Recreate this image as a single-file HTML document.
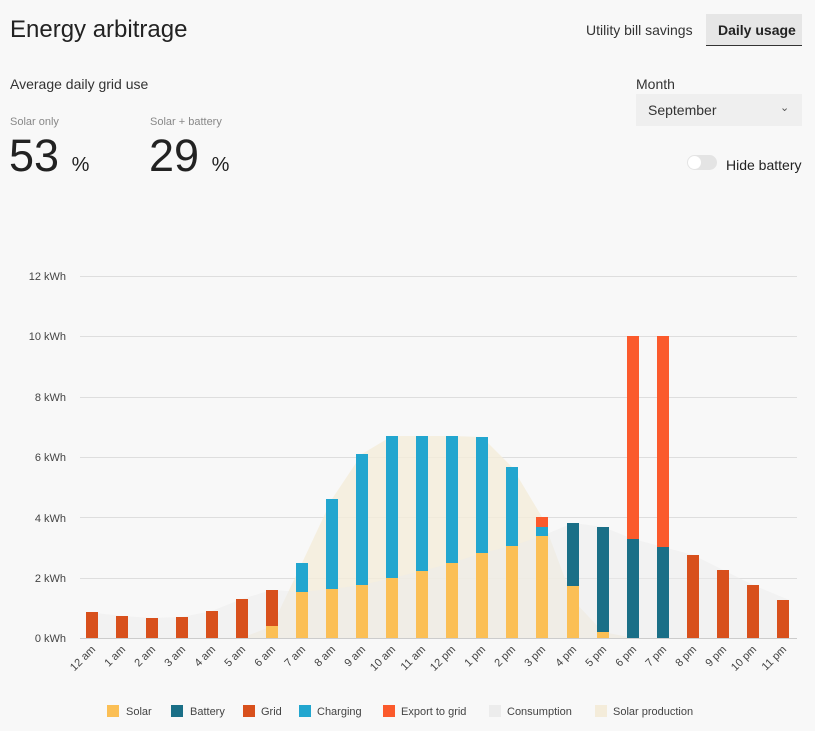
<!DOCTYPE html>
<html><head><meta charset="utf-8"><style>
body{margin:0;width:815px;height:731px;background:#f8f8f8;font-family:"Liberation Sans",sans-serif;color:#222;position:relative;overflow:hidden}
.a{position:absolute;white-space:nowrap}
</style></head><body>
<div class="a" style="left:10px;top:16px;font-size:24px;color:#222">Energy arbitrage</div>
<div class="a" style="left:586px;top:22px;font-size:14px;color:#333">Utility bill savings</div>
<div class="a" style="left:706px;top:14px;width:96px;height:31px;background:#e6e6e6;border-bottom:1px solid #333"></div>
<div class="a" style="left:718px;top:22px;font-size:14px;font-weight:bold;color:#222">Daily usage</div>
<div class="a" style="left:10px;top:76px;font-size:14px;color:#333">Average daily grid use</div>
<div class="a" style="left:10px;top:116px;font-size:11px;color:#888">Solar only</div>
<div class="a" style="left:150px;top:116px;font-size:11px;color:#888">Solar + battery</div>
<div class="a" style="left:9px;top:130px;font-size:45px;color:#222">53 <span style="font-size:20px">%</span></div>
<div class="a" style="left:149px;top:130px;font-size:45px;color:#222">29 <span style="font-size:20px">%</span></div>
<div class="a" style="left:636px;top:76px;font-size:14px;color:#333">Month</div>
<div class="a" style="left:636px;top:94px;width:166px;height:32px;background:#efefef"></div>
<div class="a" style="left:648px;top:102px;font-size:14px;color:#333">September</div>
<div class="a" style="left:780px;top:101px;font-size:11px;color:#555">&#8964;</div>
<div class="a" style="left:687px;top:155px;width:30px;height:15px;border-radius:8px;background:#e4e4e4"></div>
<div class="a" style="left:688px;top:156px;width:13px;height:13px;border-radius:7px;background:#fff"></div>
<div class="a" style="left:726px;top:157px;font-size:14px;color:#222">Hide battery</div>
<svg class="a" style="left:0;top:0" width="815" height="731">
<g font-size="11" fill="#444" text-anchor="end">
<text x="66" y="280">12 kWh</text><text x="66" y="340">10 kWh</text><text x="66" y="401">8 kWh</text><text x="66" y="461">6 kWh</text><text x="66" y="522">4 kWh</text><text x="66" y="582">2 kWh</text><text x="66" y="642">0 kWh</text>
</g>
<g stroke="#dedede" stroke-width="1">
<line x1="80" x2="797" y1="276.5" y2="276.5"/><line x1="80" x2="797" y1="336.5" y2="336.5"/><line x1="80" x2="797" y1="397.5" y2="397.5"/><line x1="80" x2="797" y1="457.5" y2="457.5"/><line x1="80" x2="797" y1="517.5" y2="517.5"/><line x1="80" x2="797" y1="578.5" y2="578.5"/>
</g>
<polygon fill="#f4ecda" opacity="0.8" points="242,638 272,626 302,563 332,499 362,454 392,436 422,436 452,436 482,437 512,467 542,517 573,600 603,632 633,638"/>
<polygon fill="#ebebeb" opacity="0.5" points="86,638 86,612 122,616 152,618 182,617 212,611 242,599 272,590 302,592 332,589 362,585 392,578 422,571 452,563 482,553 512,546 542,536 573,523 603,527 633,539 663,547 693,555 723,570 753,585 789,600 789,638"/>
<line x1="80" x2="797" y1="638.5" y2="638.5" stroke="#ccc"/>
<g>
<rect x="86" y="612" width="12" height="26" fill="#d8501c"/>
<rect x="116" y="616" width="12" height="22" fill="#d8501c"/>
<rect x="146" y="618" width="12" height="20" fill="#d8501c"/>
<rect x="176" y="617" width="12" height="21" fill="#d8501c"/>
<rect x="206" y="611" width="12" height="27" fill="#d8501c"/>
<rect x="236" y="599" width="12" height="39" fill="#d8501c"/>
<rect x="266" y="590" width="12" height="36" fill="#d8501c"/><rect x="266" y="626" width="12" height="12" fill="#fbbf55"/>
<rect x="296" y="563" width="12" height="29" fill="#22a6cf"/><rect x="296" y="592" width="12" height="46" fill="#fbbf55"/>
<rect x="326" y="499" width="12" height="90" fill="#22a6cf"/><rect x="326" y="589" width="12" height="49" fill="#fbbf55"/>
<rect x="356" y="454" width="12" height="131" fill="#22a6cf"/><rect x="356" y="585" width="12" height="53" fill="#fbbf55"/>
<rect x="386" y="436" width="12" height="142" fill="#22a6cf"/><rect x="386" y="578" width="12" height="60" fill="#fbbf55"/>
<rect x="416" y="436" width="12" height="135" fill="#22a6cf"/><rect x="416" y="571" width="12" height="67" fill="#fbbf55"/>
<rect x="446" y="436" width="12" height="127" fill="#22a6cf"/><rect x="446" y="563" width="12" height="75" fill="#fbbf55"/>
<rect x="476" y="437" width="12" height="116" fill="#22a6cf"/><rect x="476" y="553" width="12" height="85" fill="#fbbf55"/>
<rect x="506" y="467" width="12" height="79" fill="#22a6cf"/><rect x="506" y="546" width="12" height="92" fill="#fbbf55"/>
<rect x="536" y="517" width="12" height="10" fill="#fb5a2c"/><rect x="536" y="527" width="12" height="9" fill="#22a6cf"/><rect x="536" y="536" width="12" height="102" fill="#fbbf55"/>
<rect x="567" y="523" width="12" height="63" fill="#1a6f87"/><rect x="567" y="586" width="12" height="52" fill="#fbbf55"/>
<rect x="597" y="527" width="12" height="105" fill="#1a6f87"/><rect x="597" y="632" width="12" height="6" fill="#fbbf55"/>
<rect x="627" y="336" width="12" height="203" fill="#fb5a2c"/><rect x="627" y="539" width="12" height="99" fill="#1a6f87"/>
<rect x="657" y="336" width="12" height="211" fill="#fb5a2c"/><rect x="657" y="547" width="12" height="91" fill="#1a6f87"/>
<rect x="687" y="555" width="12" height="83" fill="#d8501c"/>
<rect x="717" y="570" width="12" height="68" fill="#d8501c"/>
<rect x="747" y="585" width="12" height="53" fill="#d8501c"/>
<rect x="777" y="600" width="12" height="38" fill="#d8501c"/>
</g>
<g font-size="11" fill="#444" text-anchor="end">
<text transform="translate(96,650) rotate(-45)">12 am</text>
<text transform="translate(126,650) rotate(-45)">1 am</text>
<text transform="translate(156,650) rotate(-45)">2 am</text>
<text transform="translate(186,650) rotate(-45)">3 am</text>
<text transform="translate(216,650) rotate(-45)">4 am</text>
<text transform="translate(246,650) rotate(-45)">5 am</text>
<text transform="translate(276,650) rotate(-45)">6 am</text>
<text transform="translate(306,650) rotate(-45)">7 am</text>
<text transform="translate(336,650) rotate(-45)">8 am</text>
<text transform="translate(366,650) rotate(-45)">9 am</text>
<text transform="translate(396,650) rotate(-45)">10 am</text>
<text transform="translate(426,650) rotate(-45)">11 am</text>
<text transform="translate(456,650) rotate(-45)">12 pm</text>
<text transform="translate(486,650) rotate(-45)">1 pm</text>
<text transform="translate(516,650) rotate(-45)">2 pm</text>
<text transform="translate(546,650) rotate(-45)">3 pm</text>
<text transform="translate(577,650) rotate(-45)">4 pm</text>
<text transform="translate(607,650) rotate(-45)">5 pm</text>
<text transform="translate(637,650) rotate(-45)">6 pm</text>
<text transform="translate(667,650) rotate(-45)">7 pm</text>
<text transform="translate(697,650) rotate(-45)">8 pm</text>
<text transform="translate(727,650) rotate(-45)">9 pm</text>
<text transform="translate(757,650) rotate(-45)">10 pm</text>
<text transform="translate(787,650) rotate(-45)">11 pm</text>
</g>
<g font-size="11" fill="#444">
<rect x="107" y="705" width="12" height="12" fill="#fbbf55"/><text x="126" y="715">Solar</text>
<rect x="171" y="705" width="12" height="12" fill="#1a6f87"/><text x="190" y="715">Battery</text>
<rect x="243" y="705" width="12" height="12" fill="#d8501c"/><text x="261" y="715">Grid</text>
<rect x="299" y="705" width="12" height="12" fill="#22a6cf"/><text x="317" y="715">Charging</text>
<rect x="383" y="705" width="12" height="12" fill="#fb5a2c"/><text x="401" y="715">Export to grid</text>
<rect x="489" y="705" width="12" height="12" fill="#ececec"/><text x="507" y="715">Consumption</text>
<rect x="595" y="705" width="12" height="12" fill="#f4ecda"/><text x="613" y="715">Solar production</text>
</g>
</svg>
</body></html>
